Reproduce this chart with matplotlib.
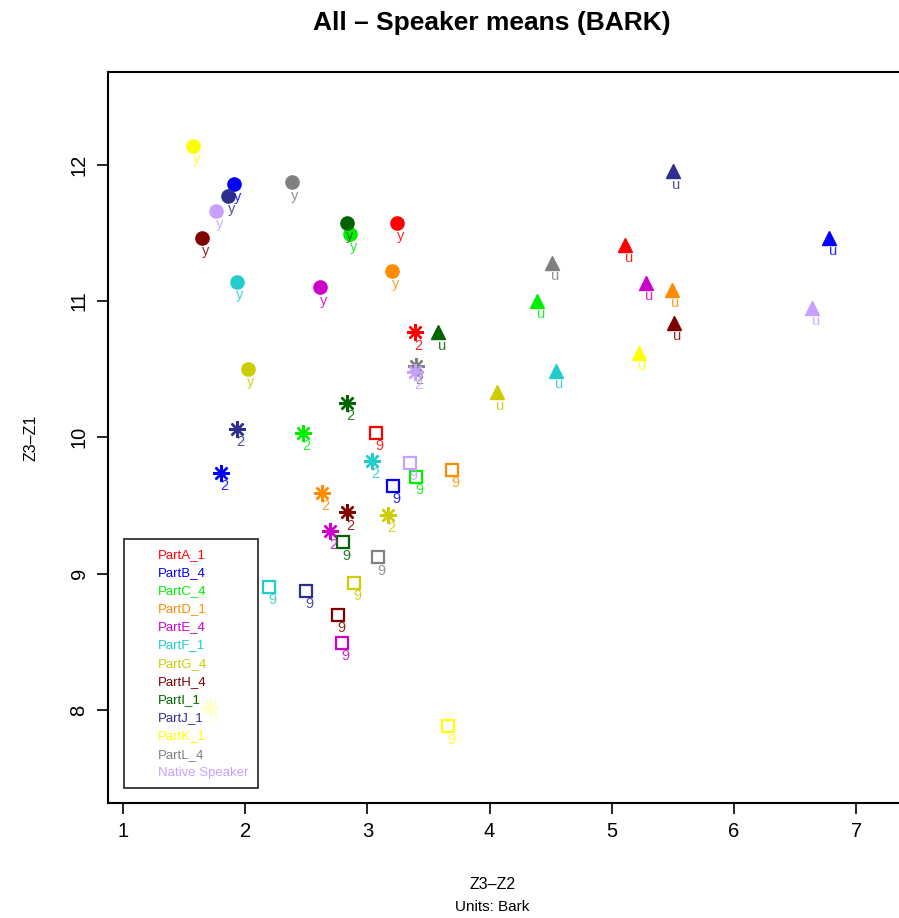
import matplotlib.pyplot as plt
from matplotlib.lines import Line2D

plt.rcParams['font.family'] = ['Liberation Sans', 'DejaVu Sans']

speakers = ["PartA_1", "PartB_4", "PartC_4", "PartD_1", "PartE_4", "PartF_1",
            "PartG_4", "PartH_4", "PartI_1", "PartJ_1", "PartK_1", "PartL_4",
            "Native Speaker"]
colors = ["#FF0000", "#0000FF", "#00EE00", "#FF8C00", "#CC00CC", "#22CCCC",
          "#CCCC00", "#800000", "#006400", "#2E2E8F", "#FFFF00", "#808080",
          "#C8A0FF"]

# speaker means per vowel: Z3-Z2 (x) and Z3-Z1 (y), in Bark
y_z32 = [3.24, 1.91, 2.86, 3.20, 2.61, 1.93, 2.02, 1.65, 2.83, 1.86, 1.57, 2.38, 1.76]
y_z31 = [11.57, 11.86, 11.49, 11.22, 11.10, 11.14, 10.50, 11.46, 11.57, 11.77, 12.14, 11.87, 11.66]

u_z32 = [5.11, 6.78, 4.39, 5.49, 5.28, 4.54, 4.06, 5.51, 3.58, 5.50, 5.22, 4.51, 6.64]
u_z31 = [11.41, 11.46, 11.00, 11.08, 11.13, 10.49, 10.33, 10.84, 10.77, 11.95, 10.62, 11.28, 10.95]

v2_z32 = [3.39, 1.80, 2.47, 2.63, 2.69, 3.04, 3.17, 2.83, 2.83, 1.93, 1.71, 3.40, 3.39]
v2_z31 = [10.77, 9.74, 10.03, 9.59, 9.31, 9.83, 9.43, 9.45, 10.25, 10.06, 8.02, 10.52, 10.48]

v9_z32 = [3.07, 3.21, 3.40, 3.69, 2.79, 2.195, 2.89, 2.76, 2.80, 2.50, 3.66, 3.09, 3.35]
v9_z31 = [10.03, 9.645, 9.71, 9.76, 8.49, 8.90, 8.93, 8.70, 9.23, 8.875, 7.88, 9.12, 9.81]

vowels = [
    ("y", y_z32, y_z31, dict(marker="o", ms=9.5)),
    ("u", u_z32, u_z31, dict(marker="^", ms=9.5)),
    ("2", v2_z32, v2_z31, dict(marker=(8, 2, 0), ms=12, mew=1.7)),
    ("9", v9_z32, v9_z31, dict(marker="s", ms=8.5, mfc="none", mew=1.6)),
]

fig = plt.figure(figsize=(8.99, 9.18), dpi=100)
ax = fig.add_axes([0.1201, 0.1253, 0.9003, 0.7963])

for i, (name, col) in enumerate(zip(speakers, colors)):
    for lab, xs, ys, style in vowels:
        ax.plot(xs[i], ys[i], linestyle="none", color=col, **style)
        ax.annotate(lab, (xs[i], ys[i]), xytext=(2.5, -9.5), textcoords="offset points",
                    color=col, alpha=0.85, fontsize=10.5, ha="center", va="center")

ax.set_xlim(0.877, 7.5)
ax.set_ylim(7.318, 12.68)
ax.set_xticks([1, 2, 3, 4, 5, 6, 7])
ax.set_yticks([8, 9, 10, 11, 12])
ax.tick_params(direction="out", length=8, width=1.2, labelsize=14.5, pad=6)
for lbl in ax.get_yticklabels():
    lbl.set_rotation(90)
    lbl.set_va("center")
for sp in ax.spines.values():
    sp.set_linewidth(1.5)

fig.text(0.5475, 0.975, "All \u2013 Speaker means (BARK)", ha="center", va="center",
         fontsize=19, fontweight="bold")
fig.text(0.5475, 0.036, "Z3\u2013Z2", ha="center", va="center", fontsize=11.5)
fig.text(0.5475, 0.012, "Units: Bark", ha="center", va="center", fontsize=11)
fig.text(0.034, 0.523, "Z3\u2013Z1", ha="center", va="center", fontsize=11.5, rotation=90)

handles = [Line2D([], [], linestyle="none") for _ in speakers]
leg = ax.legend(handles, speakers, loc="lower left", bbox_to_anchor=(0.0198, 0.0205),
                borderaxespad=0, frameon=True, fancybox=False, fontsize=9.5,
                labelcolor=colors, handlelength=1.5, handletextpad=0.4,
                labelspacing=0.45, borderpad=0.7)
leg.get_frame().set_edgecolor("black")
leg.get_frame().set_linewidth(1.3)

fig.savefig("out.png", dpi=100)
